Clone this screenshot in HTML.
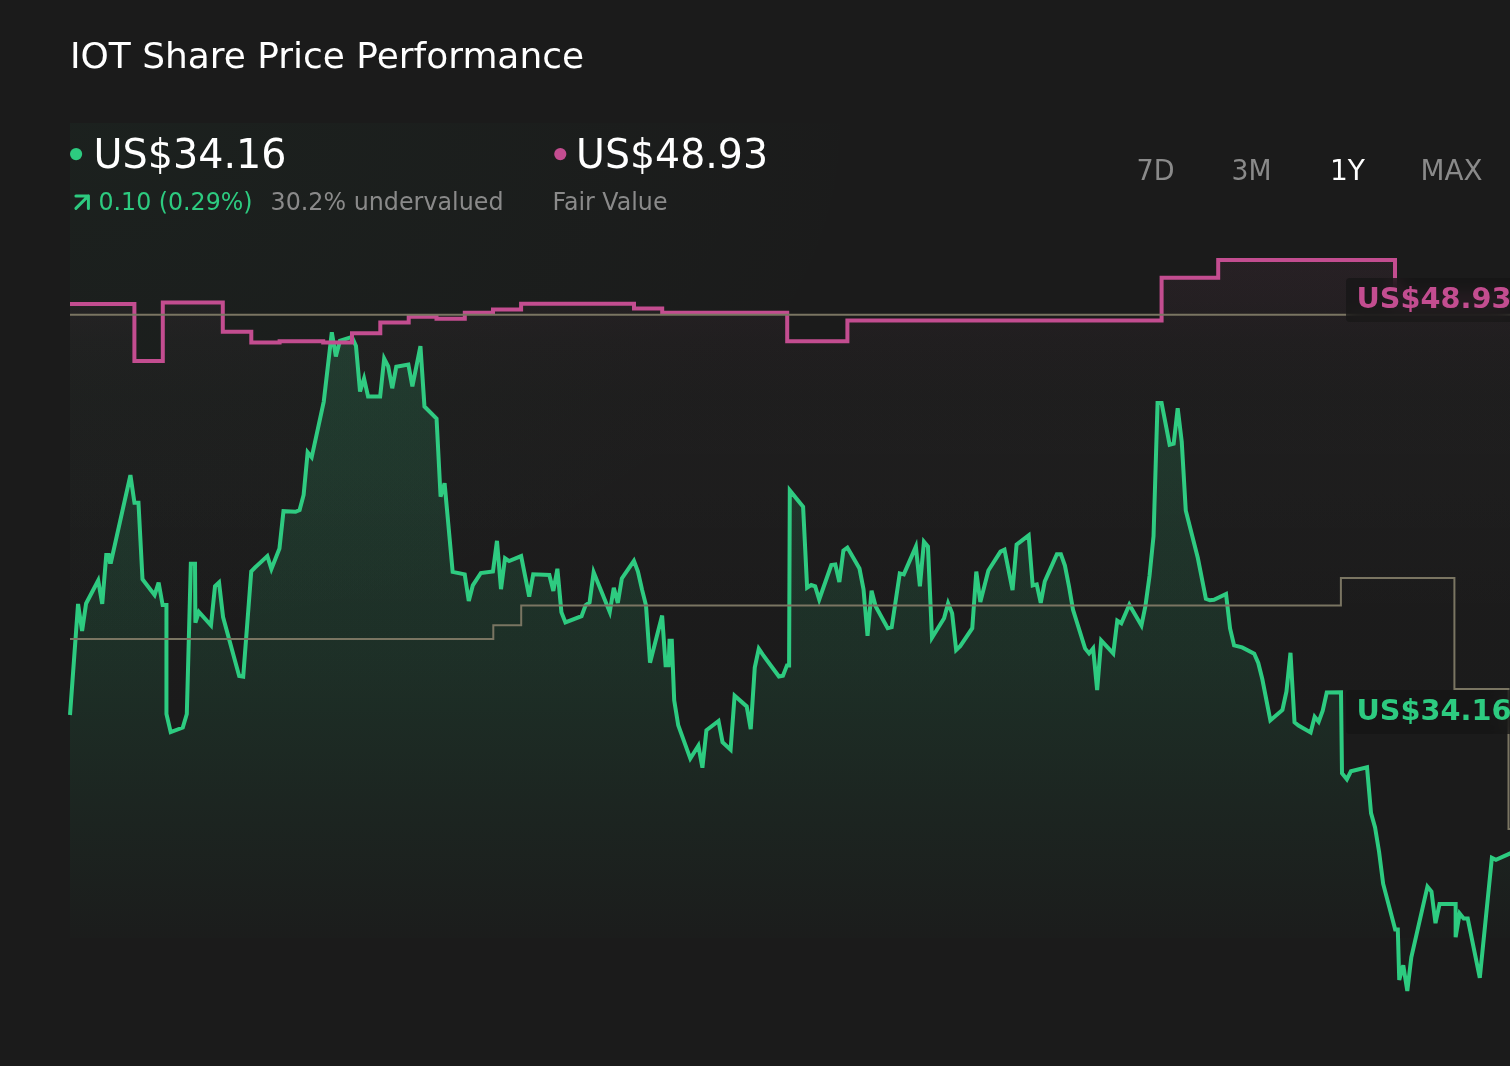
<!DOCTYPE html>
<html lang="en">
<head>
<meta charset="utf-8">
<title>IOT Share Price Performance</title>
<style>
html,body{margin:0;padding:0;background:#1b1b1b;}
body{width:1510px;height:1066px;overflow:hidden;position:relative;font-family:"Liberation Sans",sans-serif;color:#fff;}
svg{position:absolute;left:0;top:0;display:block}
.sr{position:absolute;width:1px;height:1px;margin:-1px;padding:0;overflow:hidden;clip:rect(0 0 0 0);clip-path:inset(50%);white-space:nowrap;border:0;font-family:"Liberation Sans",sans-serif;}
.lbl{position:absolute;left:1346px;width:170px;height:44px;border-radius:4px;background:rgba(21,20,21,.68);-webkit-backdrop-filter:blur(8px);backdrop-filter:blur(8px);}
</style>
</head>
<body>
<h1 class="sr">IOT Share Price Performance</h1>
<div class="sr">
 <p>US$34.16 <span>0.10 (0.29%)</span> <span>30.2% undervalued</span></p>
 <p>US$48.93 <span>Fair Value</span></p>
 <ul><li>7D</li><li>3M</li><li>1Y</li><li>MAX</li></ul>
 <p>Fair value label: US$48.93</p>
 <p>Share price label: US$34.16</p>
</div>
<svg id="chart" width="1510" height="1066" viewBox="0 0 1510 1066" aria-hidden="true">
<defs>
<linearGradient id="gA" gradientUnits="userSpaceOnUse" x1="0" y1="330" x2="0" y2="938">
<stop offset="0" stop-color="#2dcb80" stop-opacity=".155"/>
<stop offset=".2" stop-color="#2dcb80" stop-opacity=".145"/>
<stop offset=".526" stop-color="#2dcb80" stop-opacity=".118"/>
<stop offset=".61" stop-color="#2dcb80" stop-opacity=".10"/>
<stop offset=".77" stop-color="#2dcb80" stop-opacity=".06"/>
<stop offset=".93" stop-color="#2dcb80" stop-opacity=".024"/>
<stop offset="1" stop-color="#2dcb80" stop-opacity=".008"/>
</linearGradient>
<linearGradient id="gP" gradientUnits="userSpaceOnUse" x1="0" y1="260" x2="0" y2="938">
<stop offset="0" stop-color="#c34d90" stop-opacity=".06"/>
<stop offset=".06" stop-color="#c34d90" stop-opacity=".042"/>
<stop offset=".12" stop-color="#c34d90" stop-opacity=".018"/>
<stop offset=".2" stop-color="#c34d90" stop-opacity=".005"/>
<stop offset="1" stop-color="#c34d90" stop-opacity="0"/>
</linearGradient>
<linearGradient id="gW" gradientUnits="userSpaceOnUse" x1="0" y1="300" x2="0" y2="640">
<stop offset="0" stop-color="#fff" stop-opacity=".011"/>
<stop offset=".45" stop-color="#fff" stop-opacity=".011"/>
<stop offset="1" stop-color="#fff" stop-opacity="0"/>
</linearGradient>
<radialGradient id="gT" gradientUnits="userSpaceOnUse" cx="0" cy="0" r="1" gradientTransform="translate(70 123) scale(820 540)">
<stop offset="0" stop-color="#2dcb80" stop-opacity=".034"/>
<stop offset=".5" stop-color="#2dcb80" stop-opacity=".018"/>
<stop offset="1" stop-color="#2dcb80" stop-opacity="0"/>
</radialGradient>
</defs>
<rect x="70" y="123" width="1440" height="815" fill="url(#gT)"/>
<path d="M70.00,715.00L78.06,603.92L82.08,630.91L86.11,603.50L98.20,580.48L102.22,603.95L106.25,555.00L108.70,555.00L109.90,561.90L111.00,561.90L130.42,475.16L134.45,502.80L138.48,502.80L142.50,579.30L154.59,594.96L158.62,582.69L162.64,605.00L166.45,605.00L166.45,714.00L170.70,732.09L182.78,727.50L186.81,714.00L190.84,563.70L195.00,563.70L195.40,622.66L198.90,611.94L210.98,625.24L215.01,586.20L219.04,582.42L223.06,617.00L239.18,676.00L243.20,676.72L251.26,571.30L255.29,567.30L267.37,556.08L271.40,568.90L279.46,548.40L283.48,511.17L295.57,511.80L299.60,510.00L303.62,495.00L307.65,452.30L311.68,457.30L323.76,401.60L331.82,332.28L335.85,356.38L339.88,340.90L351.96,336.90L355.99,345.90L360.02,391.50L364.04,378.50L368.07,396.40L380.16,396.40L384.18,358.60L388.21,366.30L392.24,388.26L396.27,366.80L408.35,364.49L412.38,386.32L420.44,346.17L424.46,406.50L436.55,418.50L440.58,496.59L444.60,483.29L452.66,571.90L464.74,574.40L468.77,600.90L472.80,585.40L480.86,573.00L492.94,571.50L496.97,540.81L501.00,589.19L505.02,558.21L509.05,561.10L521.14,556.11L529.19,596.53L533.22,574.31L549.33,575.00L553.36,590.98L557.39,568.77L561.42,612.20L565.44,622.45L581.56,616.20L585.58,605.30L589.61,602.30L593.64,572.20L609.75,612.00L613.78,587.80L617.81,602.88L621.84,578.40L633.92,560.81L637.95,571.50L641.98,589.40L646.00,605.30L650.03,662.67L662.12,615.53L665.60,665.30L668.70,665.30L669.50,640.80L671.80,640.80L674.20,700.40L678.23,725.30L690.31,758.56L698.37,745.66L702.40,767.71L706.42,730.20L718.51,720.98L722.54,742.20L730.59,749.67L734.62,695.72L746.70,706.40L750.73,729.06L754.76,667.60L758.79,648.72L762.82,654.70L778.93,676.50L782.96,675.80L786.98,665.40L789.10,665.40L789.80,490.40L803.10,506.80L807.12,587.60L811.15,585.00L815.18,586.40L819.21,599.50L831.29,565.10L835.32,564.50L839.35,582.05L843.38,550.60L847.40,547.60L859.49,568.50L863.52,589.40L867.54,635.93L871.57,590.64L875.60,606.30L887.68,628.20L891.71,627.20L899.77,573.40L903.80,574.40L915.88,546.60L919.91,586.21L923.94,541.80L927.96,546.60L931.99,637.70L944.08,618.20L948.10,603.30L952.13,613.20L956.16,650.00L960.19,646.10L972.27,628.20L976.30,571.60L980.33,601.92L988.38,570.50L1000.47,551.60L1004.50,549.60L1012.55,590.11L1016.58,544.60L1028.66,535.30L1032.69,585.40L1036.72,584.40L1040.75,602.90L1044.78,581.40L1056.86,554.20L1060.89,554.20L1064.92,565.50L1068.94,586.00L1072.97,609.60L1085.06,648.40L1089.08,653.40L1093.11,648.40L1097.14,690.02L1101.17,640.50L1113.25,653.40L1117.28,620.60L1121.31,623.20L1129.36,604.70L1141.45,625.50L1145.48,605.60L1149.50,576.00L1153.53,536.20L1157.56,402.90L1161.59,402.90L1169.64,444.70L1173.67,443.70L1177.70,408.13L1181.73,441.70L1185.76,510.40L1197.84,558.00L1205.90,598.80L1209.92,600.30L1213.95,599.80L1226.04,594.00L1230.06,628.50L1234.09,645.40L1242.15,647.40L1254.23,653.60L1258.26,663.00L1262.29,679.00L1270.34,720.30L1282.43,709.90L1286.46,691.40L1290.48,652.80L1294.51,722.30L1298.54,725.50L1310.62,732.50L1314.65,716.80L1318.68,721.80L1322.71,710.80L1326.74,692.60L1341.00,692.40L1342.00,773.30L1346.88,779.30L1350.90,771.30L1367.02,767.30L1371.04,813.10L1375.07,827.50L1379.10,852.00L1383.13,883.70L1395.20,929.40L1397.80,929.40L1399.24,979.89L1403.27,965.32L1407.30,991.03L1411.32,957.30L1427.44,886.60L1431.46,891.60L1435.49,923.17L1439.52,904.00L1455.63,904.00L1455.63,937.23L1459.66,913.50L1463.69,918.50L1467.72,918.50L1479.80,977.90L1491.88,857.80L1495.91,859.80L1512.02,852.60V938H70Z" fill="url(#gA)"/>
<path d="M70.00,715.00L78.06,603.92L82.08,630.91L86.11,603.50L98.20,580.48L102.22,603.95L106.25,555.00L108.70,555.00L109.90,561.90L111.00,561.90L130.42,475.16L134.45,502.80L138.48,502.80L142.50,579.30L154.59,594.96L158.62,582.69L162.64,605.00L166.45,605.00L166.45,714.00L170.70,732.09L182.78,727.50L186.81,714.00L190.84,563.70L195.00,563.70L195.40,622.66L198.90,611.94L210.98,625.24L215.01,586.20L219.04,582.42L223.06,617.00L239.18,676.00L243.20,676.72L251.26,571.30L255.29,567.30L267.37,556.08L271.40,568.90L279.46,548.40L283.48,511.17L295.57,511.80L299.60,510.00L303.62,495.00L307.65,452.30L311.68,457.30L323.76,401.60L331.82,332.28L335.85,356.38L339.88,340.90L351.96,336.90L355.99,345.90L360.02,391.50L364.04,378.50L368.07,396.40L380.16,396.40L384.18,358.60L388.21,366.30L392.24,388.26L396.27,366.80L408.35,364.49L412.38,386.32L420.44,346.17L424.46,406.50L436.55,418.50L440.58,496.59L444.60,483.29L452.66,571.90L464.74,574.40L468.77,600.90L472.80,585.40L480.86,573.00L492.94,571.50L496.97,540.81L501.00,589.19L505.02,558.21L509.05,561.10L521.14,556.11L529.19,596.53L533.22,574.31L549.33,575.00L553.36,590.98L557.39,568.77L561.42,612.20L565.44,622.45L581.56,616.20L585.58,605.30L589.61,602.30L593.64,572.20L609.75,612.00L613.78,587.80L617.81,602.88L621.84,578.40L633.92,560.81L637.95,571.50L641.98,589.40L646.00,605.30L650.03,662.67L662.12,615.53L665.60,665.30L668.70,665.30L669.50,640.80L671.80,640.80L674.20,700.40L678.23,725.30L690.31,758.56L698.37,745.66L702.40,767.71L706.42,730.20L718.51,720.98L722.54,742.20L730.59,749.67L734.62,695.72L746.70,706.40L750.73,729.06L754.76,667.60L758.79,648.72L762.82,654.70L778.93,676.50L782.96,675.80L786.98,665.40L789.10,665.40L789.80,490.40L803.10,506.80L807.12,587.60L811.15,585.00L815.18,586.40L819.21,599.50L831.29,565.10L835.32,564.50L839.35,582.05L843.38,550.60L847.40,547.60L859.49,568.50L863.52,589.40L867.54,635.93L871.57,590.64L875.60,606.30L887.68,628.20L891.71,627.20L899.77,573.40L903.80,574.40L915.88,546.60L919.91,586.21L923.94,541.80L927.96,546.60L931.99,637.70L944.08,618.20L948.10,603.30L952.13,613.20L956.16,650.00L960.19,646.10L972.27,628.20L976.30,571.60L980.33,601.92L988.38,570.50L1000.47,551.60L1004.50,549.60L1012.55,590.11L1016.58,544.60L1028.66,535.30L1032.69,585.40L1036.72,584.40L1040.75,602.90L1044.78,581.40L1056.86,554.20L1060.89,554.20L1064.92,565.50L1068.94,586.00L1072.97,609.60L1085.06,648.40L1089.08,653.40L1093.11,648.40L1097.14,690.02L1101.17,640.50L1113.25,653.40L1117.28,620.60L1121.31,623.20L1129.36,604.70L1141.45,625.50L1145.48,605.60L1149.50,576.00L1153.53,536.20L1157.56,402.90L1161.59,402.90L1169.64,444.70L1173.67,443.70L1177.70,408.13L1181.73,441.70L1185.76,510.40L1197.84,558.00L1205.90,598.80L1209.92,600.30L1213.95,599.80L1226.04,594.00L1230.06,628.50L1234.09,645.40L1242.15,647.40L1254.23,653.60L1258.26,663.00L1262.29,679.00L1270.34,720.30L1282.43,709.90L1286.46,691.40L1290.48,652.80L1294.51,722.30L1298.54,725.50L1310.62,732.50L1314.65,716.80L1318.68,721.80L1322.71,710.80L1326.74,692.60L1341.00,692.40L1342.00,773.30L1346.88,779.30L1350.90,771.30L1367.02,767.30L1371.04,813.10L1375.07,827.50L1379.10,852.00L1383.13,883.70L1395.20,929.40L1397.80,929.40L1399.24,979.89L1403.27,965.32L1407.30,991.03L1411.32,957.30L1427.44,886.60L1431.46,891.60L1435.49,923.17L1439.52,904.00L1455.63,904.00L1455.63,937.23L1459.66,913.50L1463.69,918.50L1467.72,918.50L1479.80,977.90L1491.88,857.80L1495.91,859.80L1512.02,852.60" fill="none" stroke="#2dcb80" stroke-width="4" stroke-linejoin="miter" stroke-miterlimit="4"/>
<path d="M70,304H134.4V361H162.8V302.4H222.8V331.8H251.3V342.6H279.6V341.3H323.2V342.4H352V333.3H380.3V322.6H408.7V316.8H436.5V318.7H464.8V312.8H493V309.4H521.1V303.8H634V308.4H662.2V312.8H787.2V341.2H847.4V320.6H1161.6V277.7H1218.2V259.9H1395V299.5H1514V938H70Z" fill="url(#gW)"/>
<path d="M70,304H134.4V361H162.8V302.4H222.8V331.8H251.3V342.6H279.6V341.3H323.2V342.4H352V333.3H380.3V322.6H408.7V316.8H436.5V318.7H464.8V312.8H493V309.4H521.1V303.8H634V308.4H662.2V312.8H787.2V341.2H847.4V320.6H1161.6V277.7H1218.2V259.9H1395V299.5H1514V938H70Z" fill="url(#gP)"/>
<path d="M70,304H134.4V361H162.8V302.4H222.8V331.8H251.3V342.6H279.6V341.3H323.2V342.4H352V333.3H380.3V322.6H408.7V316.8H436.5V318.7H464.8V312.8H493V309.4H521.1V303.8H634V308.4H662.2V312.8H787.2V341.2H847.4V320.6H1161.6V277.7H1218.2V259.9H1395V299.5H1514" fill="none" stroke="#c34d90" stroke-width="4" stroke-linejoin="miter"/>
<path d="M70,314.8H1514" fill="none" stroke="#7a7562" stroke-width="2"/>
<path d="M70,638.9H493.3V625.2H521.2V605.6H1340.9V577.9H1454.4V688.9H1508.5V829H1514" fill="none" stroke="#7a7562" stroke-width="2" stroke-linejoin="miter"/>
</svg>
<div class="lbl" style="top:278px"></div>
<div class="lbl" style="top:690px"></div>
<svg id="text" width="1510" height="1066" viewBox="0 0 1510 1066" aria-hidden="true">
<circle cx="76.1" cy="154.1" r="6.1" fill="#2dcb80"/>
<circle cx="560.3" cy="154.1" r="6.1" fill="#c34d90"/>
<path d="M75.9,195.9H88.4V208.4M88.4,195.9L75.9,208.4" fill="none" stroke="#2dcb80" stroke-width="3" stroke-linecap="round" stroke-linejoin="round"/>
<text x="70" y="68.2" font-family="'DejaVu Sans','Liberation Sans',sans-serif" font-size="36" fill="#ffffff" textLength="514" lengthAdjust="spacingAndGlyphs">IOT Share Price Performance</text>
<text x="93.5" y="168.2" font-family="'DejaVu Sans','Liberation Sans',sans-serif" font-size="40" fill="#ffffff" textLength="193" lengthAdjust="spacingAndGlyphs">US$34.16</text>
<text x="98.5" y="209.7" font-family="'DejaVu Sans','Liberation Sans',sans-serif" font-size="24" fill="#2dcb80" textLength="154" lengthAdjust="spacingAndGlyphs">0.10 (0.29%)</text>
<text x="270.5" y="209.7" font-family="'DejaVu Sans','Liberation Sans',sans-serif" font-size="24" fill="#8a8a8a" textLength="233" lengthAdjust="spacingAndGlyphs">30.2% undervalued</text>
<text x="576" y="168.2" font-family="'DejaVu Sans','Liberation Sans',sans-serif" font-size="40" fill="#ffffff" textLength="192" lengthAdjust="spacingAndGlyphs">US$48.93</text>
<text x="552.5" y="209.7" font-family="'DejaVu Sans','Liberation Sans',sans-serif" font-size="24" fill="#8a8a8a" textLength="115" lengthAdjust="spacingAndGlyphs">Fair Value</text>
<text x="1136.5" y="180.2" font-family="'DejaVu Sans','Liberation Sans',sans-serif" font-size="28" fill="#8a8a8a" textLength="38" lengthAdjust="spacingAndGlyphs">7D</text>
<text x="1231.5" y="180.2" font-family="'DejaVu Sans','Liberation Sans',sans-serif" font-size="28" fill="#8a8a8a" textLength="40" lengthAdjust="spacingAndGlyphs">3M</text>
<text x="1330" y="180.2" font-family="'DejaVu Sans','Liberation Sans',sans-serif" font-size="28" fill="#ffffff" textLength="35" lengthAdjust="spacingAndGlyphs">1Y</text>
<text x="1420.5" y="180.2" font-family="'DejaVu Sans','Liberation Sans',sans-serif" font-size="28" fill="#8a8a8a" textLength="62" lengthAdjust="spacingAndGlyphs">MAX</text>
<text x="1356.5" y="308.1" font-family="'DejaVu Sans','Liberation Sans',sans-serif" font-size="28" font-weight="bold" fill="#c34d90" textLength="155" lengthAdjust="spacingAndGlyphs">US$48.93</text>
<text x="1356.5" y="719.7" font-family="'DejaVu Sans','Liberation Sans',sans-serif" font-size="28" font-weight="bold" fill="#2dcb80" textLength="155" lengthAdjust="spacingAndGlyphs">US$34.16</text>
</svg>
</body>
</html>
